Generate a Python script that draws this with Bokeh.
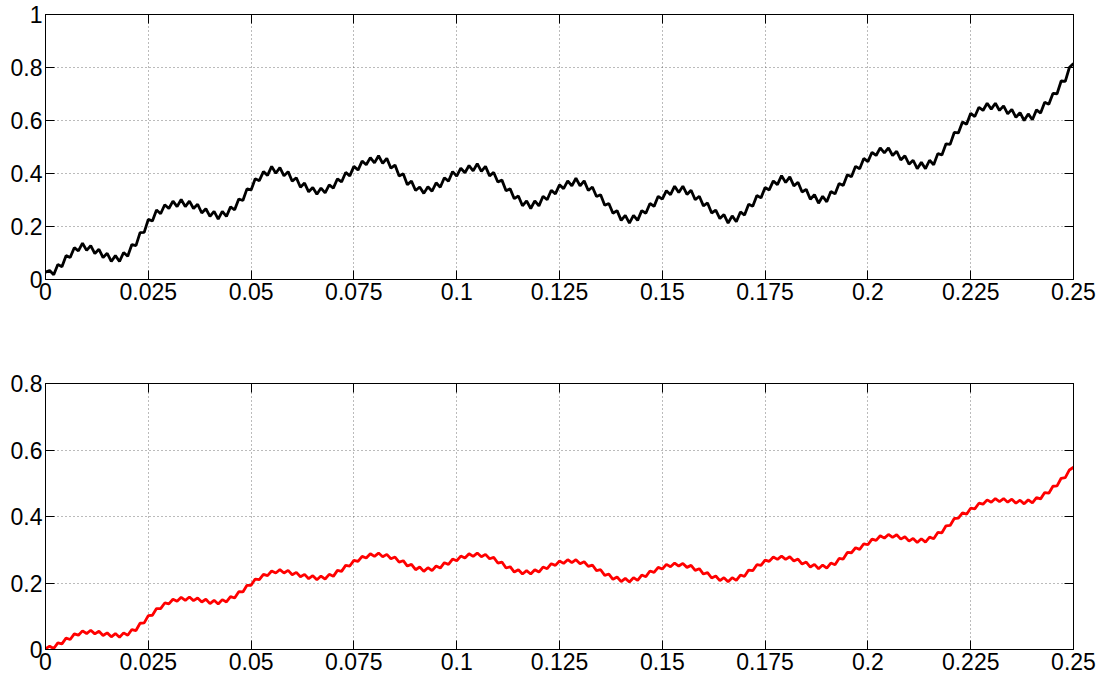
from bokeh.plotting import figure
from bokeh.layouts import column
from bokeh.models import Range1d, FixedTicker, LinearAxis, CustomJSTickFormatter
from bokeh.embed import file_html
from bokeh.resources import INLINE

# sample times (s), one sample per millisecond
t = [i / 1000 for i in range(251)]

x_ticks = [0, 0.025, 0.05, 0.075, 0.1, 0.125, 0.15, 0.175, 0.2, 0.225, 0.25]
x_labels = ["0", "0.025", "0.05", "0.075", "0.1", "0.125", "0.15", "0.175", "0.2", "0.225", "0.25"]
top_y_ticks = [0, 0.2, 0.4, 0.6, 0.8, 1.0]
top_y_labels = ["0", "0.2", "0.4", "0.6", "0.8", "1"]
bot_y_ticks = [0, 0.2, 0.4, 0.6, 0.8]
bot_y_labels = ["0", "0.2", "0.4", "0.6", "0.8"]

top_values = [
    0.028, 0.034, 0.018, 0.057, 0.048, 0.090, 0.083, 0.120, 0.108, 0.137,
    0.110, 0.128, 0.098, 0.114, 0.083, 0.099, 0.068, 0.090, 0.068, 0.102,
    0.088, 0.132, 0.128, 0.177, 0.178, 0.227, 0.221, 0.262, 0.248, 0.282,
    0.268, 0.296, 0.275, 0.302, 0.275, 0.296, 0.268, 0.284, 0.251, 0.267,
    0.238, 0.257, 0.228, 0.257, 0.238, 0.274, 0.263, 0.304, 0.298, 0.342,
    0.338, 0.380, 0.373, 0.407, 0.393, 0.427, 0.401, 0.422, 0.391, 0.407,
    0.371, 0.384, 0.348, 0.364, 0.331, 0.347, 0.322, 0.345, 0.327, 0.357,
    0.345, 0.380, 0.368, 0.404, 0.391, 0.427, 0.413, 0.447, 0.433, 0.460,
    0.440, 0.467, 0.438, 0.457, 0.420, 0.432, 0.391, 0.399, 0.358, 0.371,
    0.336, 0.349, 0.325, 0.350, 0.333, 0.365, 0.348, 0.384, 0.371, 0.407,
    0.390, 0.420, 0.403, 0.430, 0.410, 0.437, 0.408, 0.427, 0.391, 0.404,
    0.368, 0.375, 0.335, 0.342, 0.305, 0.315, 0.278, 0.297, 0.268, 0.297,
    0.278, 0.314, 0.301, 0.337, 0.323, 0.357, 0.343, 0.372, 0.353, 0.382,
    0.353, 0.372, 0.336, 0.349, 0.313, 0.320, 0.280, 0.287, 0.250, 0.260,
    0.223, 0.242, 0.213, 0.242, 0.223, 0.260, 0.250, 0.287, 0.276, 0.314,
    0.303, 0.335, 0.320, 0.352, 0.328, 0.352, 0.321, 0.337, 0.301, 0.314,
    0.278, 0.289, 0.251, 0.262, 0.230, 0.245, 0.213, 0.240, 0.218, 0.255,
    0.243, 0.284, 0.276, 0.317, 0.308, 0.347, 0.338, 0.372, 0.358, 0.392,
    0.366, 0.387, 0.353, 0.367, 0.330, 0.340, 0.303, 0.320, 0.288, 0.314,
    0.293, 0.332, 0.323, 0.362, 0.355, 0.395, 0.388, 0.427, 0.418, 0.457,
    0.445, 0.480, 0.468, 0.497, 0.478, 0.497, 0.468, 0.484, 0.451, 0.467,
    0.435, 0.450, 0.418, 0.442, 0.418, 0.450, 0.433, 0.475, 0.470, 0.512,
    0.510, 0.555, 0.553, 0.594, 0.586, 0.627, 0.615, 0.650, 0.638, 0.665,
    0.643, 0.665, 0.638, 0.655, 0.625, 0.642, 0.612, 0.630, 0.600, 0.625,
    0.603, 0.640, 0.628, 0.669, 0.661, 0.702, 0.701, 0.749, 0.748, 0.800,
    0.815,
]

bottom_values = [
    0.002, 0.010, 0.003, 0.020, 0.017, 0.034, 0.030, 0.047, 0.043, 0.056,
    0.048, 0.058, 0.047, 0.055, 0.042, 0.050, 0.038, 0.048, 0.037, 0.050,
    0.043, 0.060, 0.057, 0.079, 0.080, 0.102, 0.103, 0.123, 0.123, 0.140,
    0.137, 0.151, 0.145, 0.157, 0.148, 0.158, 0.147, 0.155, 0.143, 0.151,
    0.138, 0.148, 0.137, 0.150, 0.143, 0.159, 0.155, 0.174, 0.173, 0.193,
    0.193, 0.212, 0.210, 0.226, 0.222, 0.236, 0.230, 0.240, 0.230, 0.238,
    0.225, 0.232, 0.219, 0.226, 0.213, 0.222, 0.210, 0.221, 0.212, 0.226,
    0.220, 0.238, 0.235, 0.253, 0.251, 0.268, 0.265, 0.280, 0.275, 0.288,
    0.280, 0.290, 0.279, 0.286, 0.273, 0.278, 0.263, 0.267, 0.251, 0.256,
    0.240, 0.248, 0.235, 0.246, 0.237, 0.251, 0.245, 0.261, 0.256, 0.272,
    0.267, 0.281, 0.275, 0.288, 0.280, 0.290, 0.279, 0.286, 0.273, 0.277,
    0.260, 0.263, 0.245, 0.249, 0.233, 0.240, 0.227, 0.237, 0.227, 0.240,
    0.233, 0.248, 0.243, 0.258, 0.253, 0.266, 0.259, 0.270, 0.261, 0.270,
    0.258, 0.264, 0.250, 0.254, 0.237, 0.240, 0.223, 0.227, 0.211, 0.218,
    0.204, 0.214, 0.203, 0.216, 0.208, 0.224, 0.219, 0.236, 0.232, 0.247,
    0.242, 0.256, 0.249, 0.260, 0.251, 0.259, 0.247, 0.253, 0.238, 0.243,
    0.227, 0.231, 0.215, 0.221, 0.207, 0.216, 0.204, 0.216, 0.208, 0.224,
    0.220, 0.239, 0.237, 0.255, 0.253, 0.269, 0.265, 0.278, 0.271, 0.281,
    0.271, 0.279, 0.266, 0.272, 0.257, 0.263, 0.248, 0.256, 0.243, 0.254,
    0.245, 0.260, 0.255, 0.274, 0.272, 0.292, 0.291, 0.306, 0.301, 0.318,
    0.315, 0.332, 0.328, 0.342, 0.335, 0.346, 0.337, 0.345, 0.332, 0.339,
    0.326, 0.334, 0.322, 0.333, 0.323, 0.338, 0.333, 0.352, 0.351, 0.372,
    0.373, 0.394, 0.395, 0.411, 0.407, 0.425, 0.423, 0.440, 0.437, 0.450,
    0.443, 0.454, 0.445, 0.454, 0.443, 0.452, 0.440, 0.449, 0.438, 0.450,
    0.441, 0.457, 0.453, 0.472, 0.470, 0.491, 0.492, 0.515, 0.517, 0.540,
    0.548,
]

FONT = "Liberation Sans"
FSIZE = "23px"


def make_panel(values, color, y_max, y_ticks, y_labels, height, border_top, border_bottom, frame_h):
    p = figure(
        width=1109, height=height,
        frame_width=1028, frame_height=frame_h,
        min_border_left=45, min_border_right=36,
        min_border_top=border_top, min_border_bottom=border_bottom,
        x_range=Range1d(0, 0.25), y_range=Range1d(0, y_max),
        output_backend="svg", toolbar_location=None,
        background_fill_color="white", border_fill_color="white",
    )
    p.outline_line_color = "black"
    p.outline_line_width = 1
    p.outline_line_alpha = 1

    xt = FixedTicker(ticks=x_ticks)
    yt = FixedTicker(ticks=y_ticks)

    for ax in p.xaxis:
        ax.ticker = xt
        ax.major_label_overrides = {k: v for k, v in zip(x_ticks, x_labels)}
    for ax in p.yaxis:
        ax.ticker = yt
        ax.major_label_overrides = {k: v for k, v in zip(y_ticks, y_labels)}

    blank = CustomJSTickFormatter(code="return ''")
    right = LinearAxis(ticker=yt, formatter=blank)
    top = LinearAxis(ticker=xt, formatter=blank)
    p.add_layout(right, "right")
    p.add_layout(top, "above")

    for ax in list(p.xaxis) + list(p.yaxis):
        ax.major_tick_in = 9
        ax.major_tick_out = 0
        ax.minor_tick_line_color = None
        ax.axis_line_color = "black"
        ax.major_tick_line_color = "black"
        ax.major_label_text_font = FONT
        ax.major_label_text_font_size = FSIZE
        ax.major_label_text_color = "black"
        ax.major_label_standoff = 3

    p.xgrid.ticker = xt
    p.ygrid.ticker = yt
    for g in (p.xgrid, p.ygrid):
        g.grid_line_color = "#555555"
        g.grid_line_dash = "1 3"
        g.grid_line_width = 1
        g.grid_line_alpha = 0.8

    p.line(t, values, line_color=color, line_width=2.8)
    return p


p_top = make_panel(top_values, "black", 1.0, top_y_ticks, top_y_labels,
                   height=320, border_top=14, border_bottom=41, frame_h=265)
p_bot = make_panel(bottom_values, "#ff0000", 0.8, bot_y_ticks, bot_y_labels,
                   height=364, border_top=63, border_bottom=35, frame_h=266)

layout = column(p_top, p_bot, spacing=0)

open("out.html", "w").write(file_html(layout, INLINE))
